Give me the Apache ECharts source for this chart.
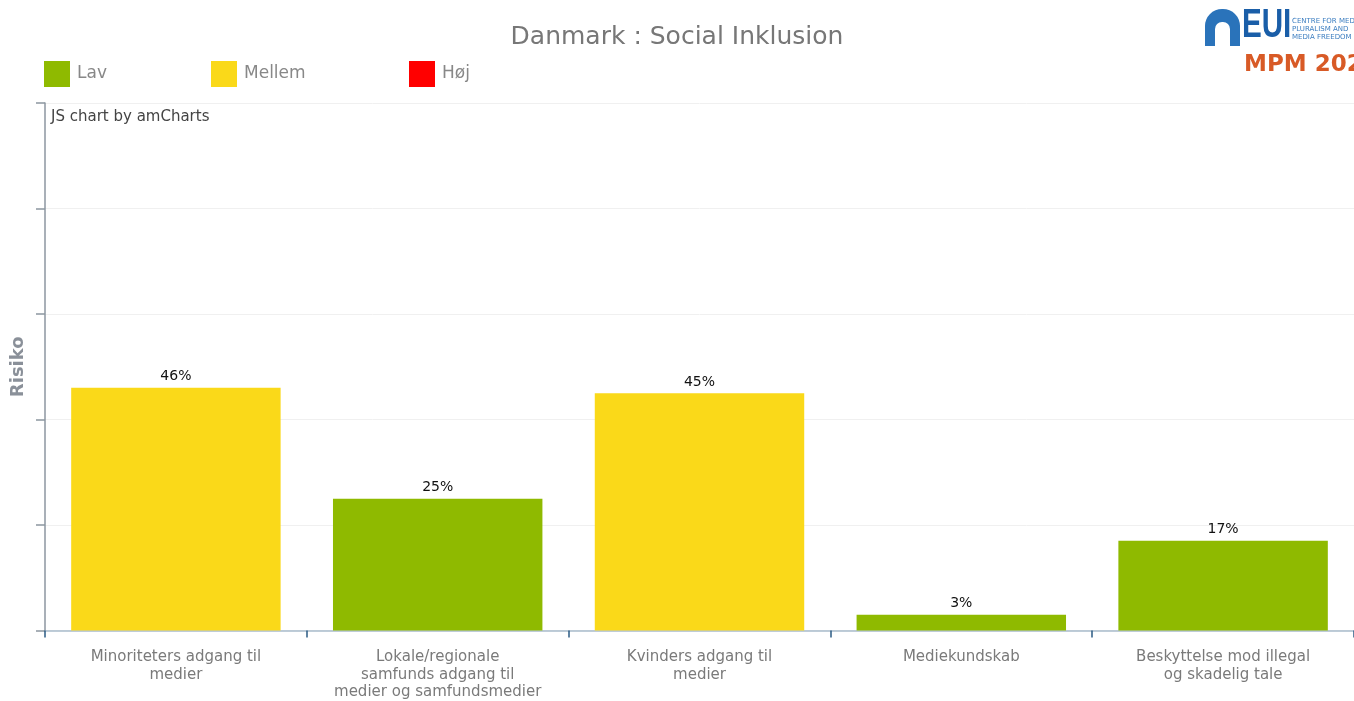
<!DOCTYPE html>
<html><head><meta charset="utf-8">
<script src="https://cdn.jsdelivr.net/npm/echarts@6/dist/echarts.min.js"></script>
<style>html,body{margin:0;padding:0;background:#fff;overflow:hidden}#c{width:1354px;height:701px}</style>
</head><body><div id="c"></div>
<script>
const categories = ["Minoriteters adgang til\nmedier", "Lokale/regionale\nsamfunds adgang til\nmedier og samfundsmedier", "Kvinders adgang til\nmedier", "Mediekundskab", "Beskyttelse mod illegal\nog skadelig tale"];
const values = [46, 25, 45, 3, 17];
const levels = ["Mellem", "Lav", "Mellem", "Lav", "Lav"];
const levelNames = ["Lav", "Mellem", "Høj"];
const levelColors = {"Lav": "#8fba00", "Mellem": "#fad919", "Høj": "#ff0000"};
const yTicks = [0, 20, 40, 60, 80, 100];

const FONT = '"DejaVu Sans", Verdana, sans-serif';
const chart = echarts.init(document.getElementById('c'));
const series = levelNames.map(n => ({
  name: n, type: 'bar', stack: 'risk', barCategoryGap: '20%',
  itemStyle: {color: levelColors[n]},
  data: values.map((v, i) => levels[i] === n ? v : '-'),
  label: {show: true, position: 'top', formatter: p => p.value + '%', color: '#111', fontSize: 14, fontFamily: FONT, distance: 4}
}));
const legendLefts = [44, 211, 409];
chart.setOption({
  animation: false,
  title: {text: 'Danmark : Social Inklusion', left: 'center', top: 20, textStyle: {color: '#777', fontSize: 25, fontWeight: 'normal', fontFamily: FONT}},
  legend: levelNames.map((n, i) => ({data: [n], left: legendLefts[i], top: 61, padding: 0, itemWidth: 26, itemHeight: 26, itemGap: 0, icon: 'rect', textStyle: {color: '#888', fontSize: 17, fontFamily: FONT, padding: [0, 0, 0, 2]}, selectedMode: false})),
  grid: {left: 45, right: -4, top: 103, bottom: 68, containLabel: false},
  xAxis: {type: 'category', data: categories,
    axisLine: {lineStyle: {color: '#a9bccb', width: 1.5}},
    axisTick: {show: true, length: 7, lineStyle: {color: '#2b5b84', width: 1.5}},
    axisLabel: {color: '#7a7a7a', fontSize: 15, fontFamily: FONT, margin: 18, lineHeight: 17.5, interval: 0}},
  yAxis: {type: 'value', min: yTicks[0], max: yTicks[yTicks.length - 1], interval: 20,
    name: 'Risiko', nameLocation: 'middle', nameGap: 18, nameTextStyle: {color: '#8a9099', fontSize: 18, fontWeight: 'bold', fontFamily: FONT},
    axisLine: {show: true, lineStyle: {color: '#8c96a0', width: 1.5}},
    axisTick: {show: true, inside: false, length: 9, lineStyle: {color: '#8c96a0', width: 1.5}},
    axisLabel: {show: false},
    splitLine: {lineStyle: {color: '#f0f0f0'}}},
  series: series,
  graphic: [
    {type: 'text', left: 51, top: 110, style: {text: 'JS chart by amCharts', fill: '#444', fontSize: 15, fontFamily: FONT}},
    {type: 'rect', shape: {x: 1205, y: 9, width: 35, height: 37, r: [17, 17, 0, 0]}, style: {fill: '#2a73ba'}},
    {type: 'rect', shape: {x: 1215, y: 22, width: 15, height: 24, r: [7, 7, 0, 0]}, style: {fill: '#fff'}},
    {type: 'text', x: 1242, y: 6, scaleX: 0.74, style: {text: 'EUI', fill: '#1a5ea8', fontSize: 40, fontWeight: 'bold', fontFamily: '"Liberation Sans", sans-serif'}},
    {type: 'text', left: 1292, top: 17, style: {text: 'CENTRE FOR MEDIA\nPLURALISM AND\nMEDIA FREEDOM', fill: '#3b7dc0', fontSize: 7, lineHeight: 8, fontFamily: '"DejaVu Sans", sans-serif'}},
    {type: 'text', left: 1244, top: 54, style: {text: 'MPM 2022', fill: '#d85a26', fontSize: 23, fontWeight: 'bold', fontFamily: '"DejaVu Sans", sans-serif'}}
  ]
});
</script></body></html>
